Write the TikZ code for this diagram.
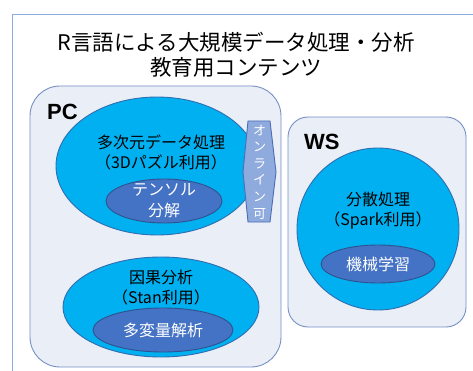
\documentclass[tikz,border=0pt]{standalone}
\usepackage{fontspec}
\setmainfont{Noto Sans CJK JP}
\newfontfamily\latinbold{Liberation Sans}
\usetikzlibrary{shapes.geometric}
\definecolor{framec}{HTML}{8FAADC}
\definecolor{boxfill}{HTML}{E9EEF7}
\definecolor{boxline}{HTML}{7690C4}
\definecolor{cyanfill}{HTML}{00B0F0}
\definecolor{cyanline}{HTML}{2F6EB0}
\definecolor{innerfill}{HTML}{4472C4}
\definecolor{innerline}{HTML}{2F528F}
\definecolor{hexfill}{HTML}{8FAADC}
\definecolor{hexline}{HTML}{4A6DB5}
\tikzset{
  x=1pt, y=-1pt,
  groupbox/.style={draw=boxline, fill=boxfill, line width=0.9pt},
  bigell/.style={draw=cyanline, fill=cyanfill, line width=0.9pt},
  smallell/.style={draw=innerline, fill=innerfill, line width=0.9pt},
  blacktext/.style={text=black, font=\fontsize{16}{20}\selectfont, align=center},
  whitetext/.style={text=white, font=\fontsize{16}{21}\selectfont, align=center},
  grouplabel/.style={font=\latinbold\bfseries\fontsize{22}{24}\selectfont, anchor=west, inner sep=0pt},
}
\begin{document}
\begin{tikzpicture}
\useasboundingbox (0,0) rectangle (473,371);
\clip (0,0) rectangle (473,371);
% outer frame
\draw[framec, line width=1pt] (12,15) rectangle (490,390);
% title
\node[font=\fontsize{21.5}{25.5}\selectfont, align=center] (title) at (236,55)
  {R言語による大規模データ処理・分析\\教育用コンテンツ};
% PC box
\draw[groupbox, rounded corners=30pt] (30,86) rectangle (281,367);
\node[grouplabel] (pc) at (47,112) {PC};
% ellipse 1
\draw[bigell] (157,166) ellipse [x radius=101, y radius=69];
\node[blacktext] (multi) at (161,152) {多次元データ処理\\（3Dパズル利用）};
\draw[smallell] (164,201) ellipse [x radius=58, y radius=22];
\node[whitetext] (tensor) at (164,201) {テンソル\\分解};
% hexagon
\draw[fill=hexfill, draw=hexline, line width=0.9pt]
  (248,121) -- (270,121) -- (276,172) -- (270,222) -- (248,222) -- (243,172) -- cycle;
\node[text=white, font=\fontsize{13}{16.6}\selectfont, align=center, inner sep=0pt] (online) at (259.5,172)
  {オ\\ン\\ラ\\イ\\ン\\可};
% ellipse 2
\draw[bigell] (161,307) ellipse [x radius=98, y radius=50];
\node[blacktext] (causal) at (161,288) {因果分析\\（Stan利用）};
\draw[smallell] (163,330) ellipse [x radius=70, y radius=22];
\node[whitetext] (multivar) at (163,330) {多変量解析};
% WS box
\draw[groupbox, rounded corners=20pt] (288,117) rectangle (466,327);
\node[grouplabel] (ws) at (304,142) {WS};
\draw[bigell] (378,229) ellipse [x radius=81, y radius=81];
\node[blacktext] (dist) at (378,211) {分散処理\\（Spark利用）};
\draw[smallell] (378,264) ellipse [x radius=57, y radius=19];
\node[whitetext] (ml) at (378,264) {機械学習};
\end{tikzpicture}
\end{document}
